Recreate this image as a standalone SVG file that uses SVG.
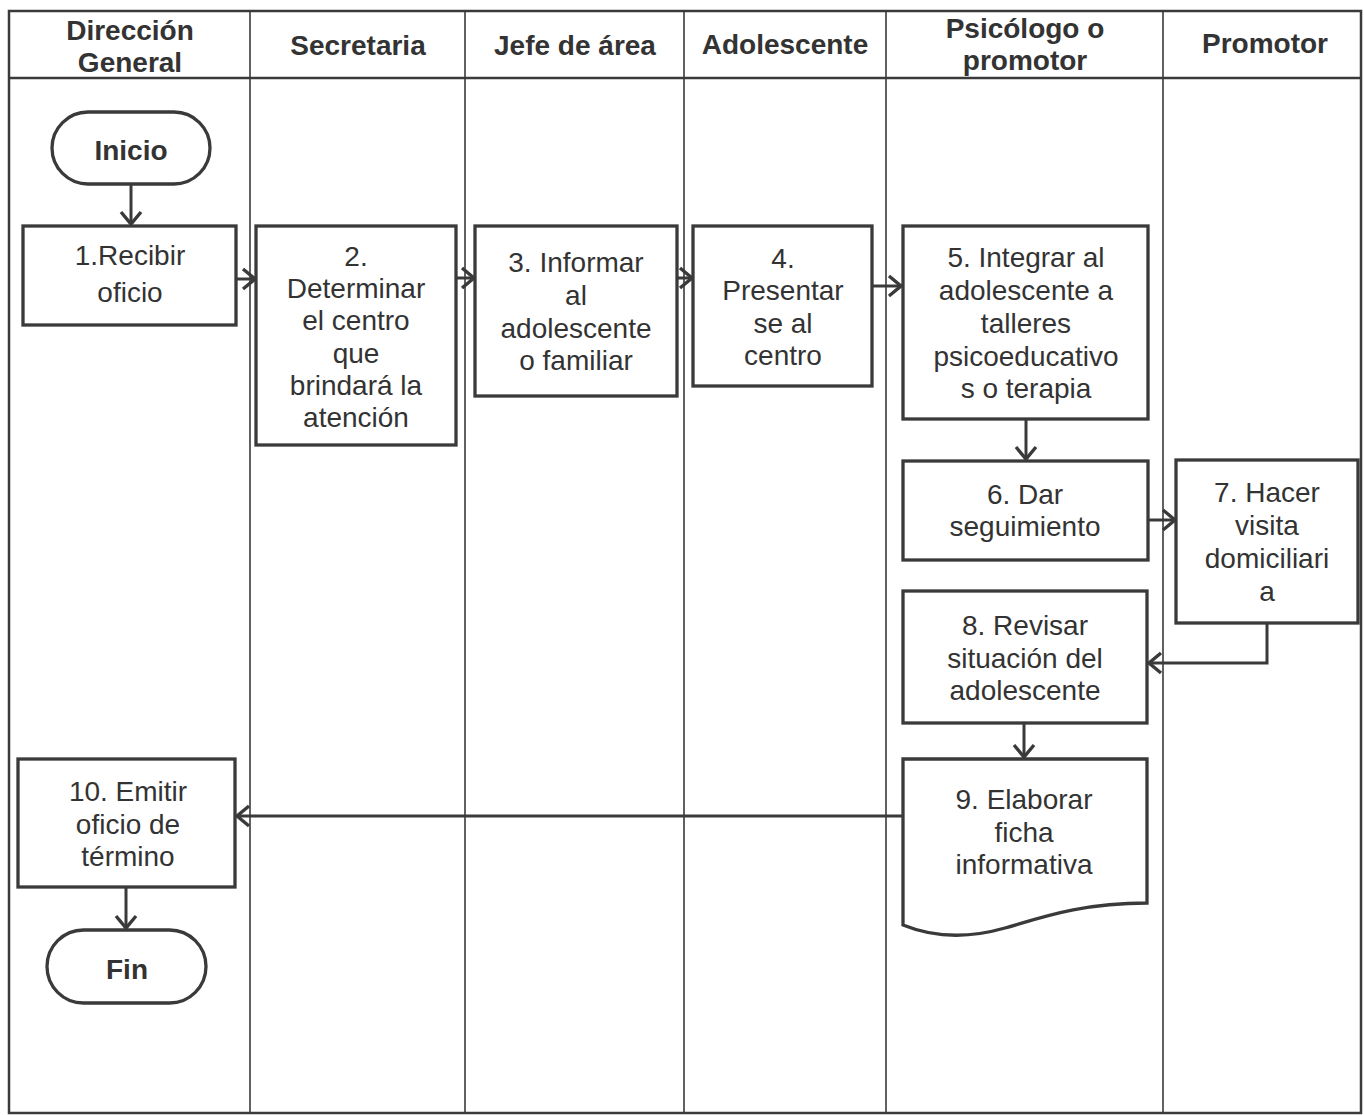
<svg xmlns="http://www.w3.org/2000/svg" width="1364" height="1115" viewBox="0 0 1364 1115">
<style>
.lane{stroke:#3a3a3a;stroke-width:1.6;fill:none}
.frame{stroke:#3a3a3a;stroke-width:2.5;fill:none}
.box{stroke:#3a3a3a;stroke-width:3.3;fill:#fff}
.conn{stroke:#3a3a3a;stroke-width:3;fill:none;marker-end:url(#arr)}
text{font-family:"Liberation Sans",Arial,sans-serif;font-size:28px;fill:#333;text-anchor:middle}
.b{font-weight:bold}
</style>
<defs>
<marker id="arr" viewBox="-16 -13 19 26" refX="0" refY="0" markerWidth="19" markerHeight="26" markerUnits="userSpaceOnUse" orient="auto">
<path d="M-12,-10 L0,0 L-12,10" stroke="#3a3a3a" stroke-width="3.4" fill="none"/>
</marker>
</defs>
<rect width="1364" height="1115" fill="#fff"/>
<g id="lanes">
<rect class="frame" x="9" y="11" width="1352" height="1102"/>
<line class="frame" x1="9" y1="78" x2="1361" y2="78"/>
<line class="lane" x1="250" y1="11" x2="250" y2="1113"/>
<line class="lane" x1="465" y1="11" x2="465" y2="1113"/>
<line class="lane" x1="684" y1="11" x2="684" y2="1113"/>
<line class="lane" x1="886" y1="11" x2="886" y2="1113"/>
<line class="lane" x1="1163" y1="11" x2="1163" y2="1113"/>
<text class="b" x="130" y="40">Dirección</text>
<text class="b" x="130" y="72">General</text>
<text class="b" x="358" y="55">Secretaria</text>
<text class="b" x="575" y="55">Jefe de área</text>
<text class="b" x="785" y="54">Adolescente</text>
<text class="b" x="1025" y="38">Psicólogo o</text>
<text class="b" x="1025" y="70">promotor</text>
<text class="b" x="1265" y="53">Promotor</text>
</g>
<g id="connectors">
<line class="conn" x1="131" y1="184" x2="131" y2="224"/>
<line class="conn" x1="236" y1="279" x2="255" y2="279"/>
<line class="conn" x1="456" y1="278" x2="474" y2="278"/>
<line class="conn" x1="677" y1="278" x2="692" y2="278"/>
<line class="conn" x1="872" y1="286" x2="901" y2="286"/>
<line class="conn" x1="1026" y1="419" x2="1026" y2="459"/>
<line class="conn" x1="1148" y1="520" x2="1175" y2="520"/>
<polyline class="conn" points="1267,623 1267,663 1149,663"/>
<line class="conn" x1="1024" y1="723" x2="1024" y2="757"/>
<line class="conn" x1="903" y1="816" x2="237" y2="816"/>
<line class="conn" x1="126" y1="887" x2="126" y2="928"/>
</g>
<g id="inicio">
<rect class="box" x="52" y="112" width="158" height="72" rx="36"/>
<text class="b" x="131" y="160">Inicio</text>
</g>
<g id="n1">
<rect class="box" x="23" y="226" width="213" height="99"/>
<text x="130" y="265">1.Recibir</text>
<text x="130" y="302">oficio</text>
</g>
<g id="n2">
<rect class="box" x="256" y="226" width="200" height="219"/>
<text x="356" y="266">2.</text>
<text x="356" y="298">Determinar</text>
<text x="356" y="330">el centro</text>
<text x="356" y="363">que</text>
<text x="356" y="395">brindará la</text>
<text x="356" y="427">atención</text>
</g>
<g id="n3">
<rect class="box" x="475" y="226" width="202" height="170"/>
<text x="576" y="272">3. Informar</text>
<text x="576" y="305">al</text>
<text x="576" y="338">adolescente</text>
<text x="576" y="370">o familiar</text>
</g>
<g id="n4">
<rect class="box" x="693" y="226" width="179" height="160"/>
<text x="783" y="268">4.</text>
<text x="783" y="300">Presentar</text>
<text x="783" y="333">se al</text>
<text x="783" y="365">centro</text>
</g>
<g id="n5">
<rect class="box" x="903" y="226" width="245" height="193"/>
<text x="1026" y="267">5. Integrar al</text>
<text x="1026" y="300">adolescente a</text>
<text x="1026" y="333">talleres</text>
<text x="1026" y="366">psicoeducativo</text>
<text x="1026" y="398">s o terapia</text>
</g>
<g id="n6">
<rect class="box" x="903" y="461" width="245" height="99"/>
<text x="1025" y="504">6. Dar</text>
<text x="1025" y="536">seguimiento</text>
</g>
<g id="n7">
<rect class="box" x="1176" y="460" width="182" height="163"/>
<text x="1267" y="502">7. Hacer</text>
<text x="1267" y="535">visita</text>
<text x="1267" y="568">domiciliari</text>
<text x="1267" y="601">a</text>
</g>
<g id="n8">
<rect class="box" x="903" y="591" width="244" height="132"/>
<text x="1025" y="635">8. Revisar</text>
<text x="1025" y="668">situación del</text>
<text x="1025" y="700">adolescente</text>
</g>
<g id="n9">
<path class="box" d="M903,759 H1147 V903 C1080,903 1040,918 1005,928 C970,938 935,938 903,925 Z"/>
<text x="1024" y="809">9. Elaborar</text>
<text x="1024" y="842">ficha</text>
<text x="1024" y="874">informativa</text>
</g>
<g id="n10">
<rect class="box" x="18" y="759" width="217" height="128"/>
<text x="128" y="801">10. Emitir</text>
<text x="128" y="834">oficio de</text>
<text x="128" y="866">término</text>
</g>
<g id="fin">
<rect class="box" x="47" y="930" width="159" height="73" rx="36.5"/>
<text class="b" x="127" y="979">Fin</text>
</g>
</svg>
